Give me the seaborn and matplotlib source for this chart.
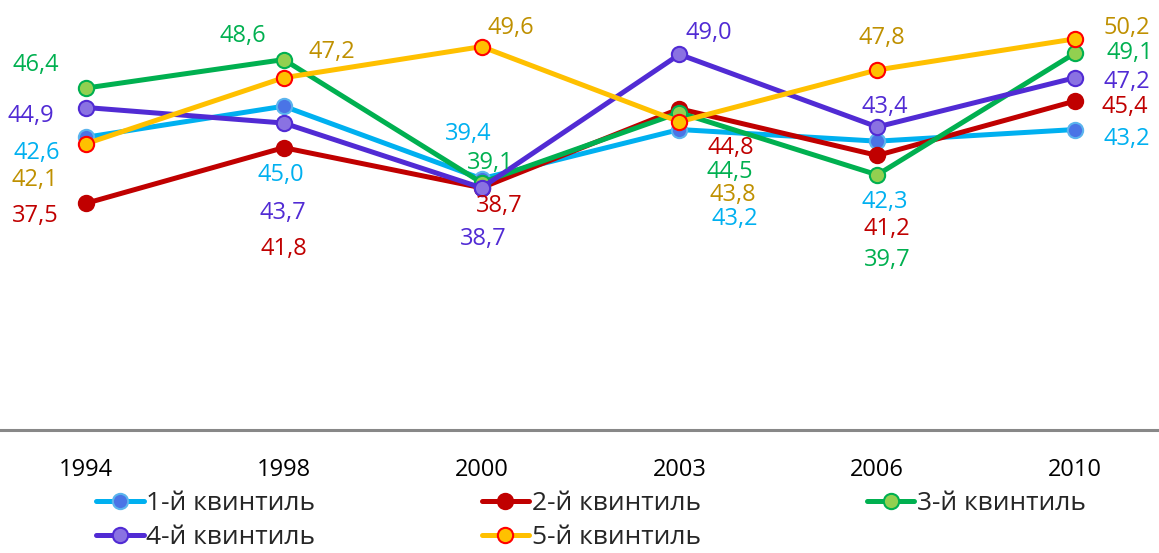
import matplotlib
matplotlib.use("Agg")
import matplotlib.pyplot as plt
import seaborn as sns

sns.set_style("white")

years = ["1994", "1998", "2000", "2003", "2006", "2010"]
series_names = ["1-й квинтиль", "2-й квинтиль", "3-й квинтиль", "4-й квинтиль", "5-й квинтиль"]
q1 = [42.6, 45.0, 39.4, 43.2, 42.3, 43.2]
q2 = [37.5, 41.8, 38.7, 44.8, 41.2, 45.4]
q3 = [46.4, 48.6, 39.1, 44.5, 39.7, 49.1]
q4 = [44.9, 43.7, 38.7, 49.0, 43.4, 47.2]
q5 = [42.1, 47.2, 49.6, 43.8, 47.8, 50.2]
all_values = [q1, q2, q3, q4, q5]

# style per series: line colour, marker face, marker edge, label colour
styles = [
    ("#00B0F0", "#4A74E6", "#5BB4EE", "#00B0F0"),
    ("#C00000", "#C00000", "#C00000", "#C00000"),
    ("#00B050", "#92D050", "#00B050", "#00B050"),
    ("#512BD4", "#8A72E2", "#512BD4", "#512BD4"),
    ("#FFC000", "#FFC000", "#FF0000", "#BF9000"),
]

# label offsets in pixels (dx, dy; dy up)
label_offsets = [
    [(-49, -16), (-3, -69), (-13, 45), (55, -89), (7, -61), (52, -9)],
    [(-51, -13), (0, -101), (18, -18), (51, -39), (10, -74), (50, -6)],
    [(-50, 23), (-41, 24), (9, 20), (50, -59), (10, -85), (55, 0)],
    [(-55, -8), (-1, -90), (2, -51), (29, 21), (8, 20), (52, -4)],
    [(-51, -36), (48, 26), (29, 19), (53, -73), (5, 32), (52, 11)],
]

plt.rcParams["font.family"] = ["Open Sans", "DejaVu Sans"]
fs = 17

fig = plt.figure(figsize=(11.59, 5.53), dpi=100)
ax = fig.add_axes([0, 123 / 553, 1, 430 / 553])

for name, vals, (lc, mf, me, tc), offs in zip(series_names, all_values, styles, label_offsets):
    sns.lineplot(x=years, y=vals, ax=ax, color=lc, lw=3.6, marker="o", markersize=11,
                 markerfacecolor=mf, markeredgecolor=me, markeredgewidth=1.5, label=name)
    for i, v in enumerate(vals):
        ax.annotate(f"{v:.1f}".replace(".", ","), (i, v), xytext=offs[i],
                    textcoords="offset pixels", ha="center", va="center",
                    fontsize=fs, color=tc)

ax.set_xlim(-0.434, 5.424)
ax.set_ylim(20, 53.2)
ax.set_yticks([])
ax.set_xlabel("")
ax.set_ylabel("")
for s in ["top", "left", "right"]:
    ax.spines[s].set_visible(False)
ax.spines["bottom"].set_color("#888888")
ax.spines["bottom"].set_linewidth(2.2)
ax.tick_params(axis="x", length=0, pad=20, labelsize=fs, colors="#000000")

# row-major legend order: 1,2,3 / 4,5
handles, labels = ax.get_legend_handles_labels()
order = [0, 3, 1, 4, 2]
ax.legend([handles[i] for i in order], [labels[i] for i in order], ncol=3,
          loc="upper center", bbox_to_anchor=(0.51, 62 / 553),
          bbox_transform=fig.transFigure, frameon=False, fontsize=19, handlelength=1.8,
          handletextpad=0.1, columnspacing=6.3, labelspacing=0.36, borderpad=0, borderaxespad=0)

fig.savefig("out.png", dpi=100)
